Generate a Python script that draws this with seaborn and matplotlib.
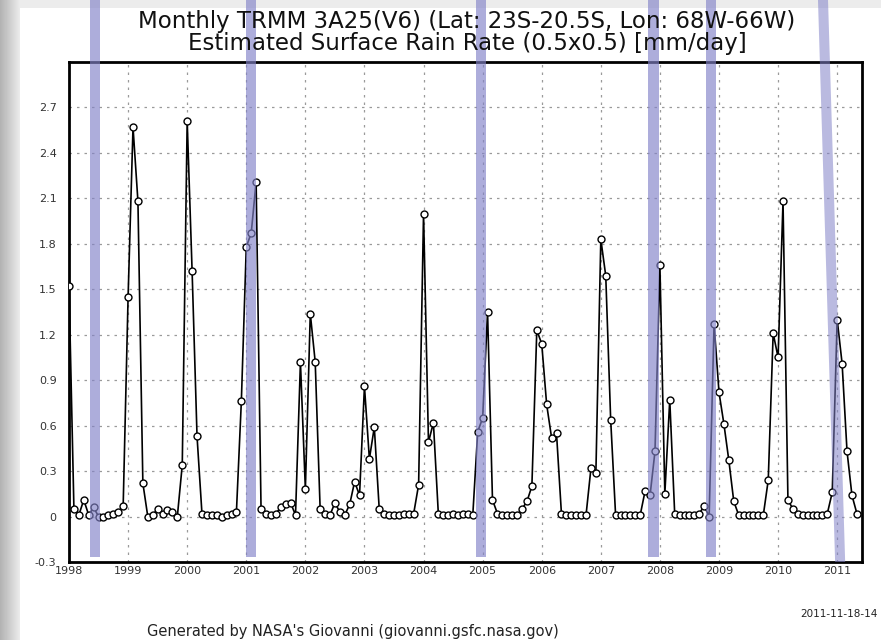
import numpy as np
import pandas as pd
import matplotlib
matplotlib.use("Agg")
import matplotlib.pyplot as plt
import seaborn as sns
from matplotlib.ticker import MultipleLocator

# Monthly surface rain rate [mm/day], Jan 1998 - May 2011
rain_1998 = [1.52, 0.05, 0.01, 0.11, 0.01, 0.06, 0.00, 0.00, 0.01, 0.02, 0.03, 0.07]
rain_1999 = [1.45, 2.57, 2.08, 0.22, 0.00, 0.01, 0.05, 0.02, 0.04, 0.03, 0.00, 0.34]
rain_2000 = [2.61, 1.62, 0.53, 0.02, 0.01, 0.01, 0.01, 0.00, 0.01, 0.02, 0.03, 0.76]
rain_2001 = [1.78, 1.87, 2.21, 0.05, 0.02, 0.01, 0.02, 0.06, 0.08, 0.09, 0.01, 1.02]
rain_2002 = [0.18, 1.34, 1.02, 0.05, 0.02, 0.01, 0.09, 0.03, 0.01, 0.08, 0.23, 0.14]
rain_2003 = [0.86, 0.38, 0.59, 0.05, 0.02, 0.01, 0.01, 0.01, 0.02, 0.02, 0.02, 0.21]
rain_2004 = [2.00, 0.49, 0.62, 0.02, 0.01, 0.01, 0.02, 0.01, 0.02, 0.02, 0.01, 0.56]
rain_2005 = [0.65, 1.35, 0.11, 0.02, 0.01, 0.01, 0.01, 0.01, 0.05, 0.10, 0.20, 1.23]
rain_2006 = [1.14, 0.74, 0.52, 0.55, 0.02, 0.01, 0.01, 0.01, 0.01, 0.01, 0.32, 0.29]
rain_2007 = [1.83, 1.59, 0.64, 0.01, 0.01, 0.01, 0.01, 0.01, 0.01, 0.17, 0.14, 0.43]
rain_2008 = [1.66, 0.15, 0.77, 0.02, 0.01, 0.01, 0.01, 0.01, 0.02, 0.07, 0.00, 1.27]
rain_2009 = [0.82, 0.61, 0.37, 0.10, 0.01, 0.01, 0.01, 0.01, 0.01, 0.01, 0.24, 1.21]
rain_2010 = [1.05, 2.08, 0.11, 0.05, 0.02, 0.01, 0.01, 0.01, 0.01, 0.01, 0.02, 0.16]
rain_2011 = [1.30, 1.01, 0.43, 0.14, 0.02]

years = list(range(1998, 2012))
ytick_vals = [-0.3, 0, 0.3, 0.6, 0.9, 1.2, 1.5, 1.8, 2.1, 2.4, 2.7]
ytick_labels = ["-0.3", "0", "0.3", "0.6", "0.9", "1.2", "1.5", "1.8", "2.1", "2.4", "2.7"]

# blue marker stripes drawn over the scan (decimal year of centre, width in years)
stripe_centres = [1998.44, 2001.08, 2004.97, 2007.89, 2008.87]
stripe_widths = [0.17, 0.16, 0.16, 0.2, 0.17]
slanted_stripe = (2010.76, 2011.05)  # centre at top of picture, at bottom of plot

title_1 = "Monthly TRMM 3A25(V6) (Lat: 23S-20.5S, Lon: 68W-66W)"
title_2 = "Estimated Surface Rain Rate (0.5x0.5) [mm/day]"
footer = "Generated by NASA's Giovanni (giovanni.gsfc.nasa.gov)"
stamp = "2011-11-18-14"

# build frame
rain = (rain_1998 + rain_1999 + rain_2000 + rain_2001 + rain_2002 + rain_2003 + rain_2004
        + rain_2005 + rain_2006 + rain_2007 + rain_2008 + rain_2009 + rain_2010 + rain_2011)
df = pd.DataFrame({"t": 1998 + np.arange(len(rain)) / 12.0, "rain": rain})

sns.set_style("white")
plt.rcParams["font.family"] = ["DejaVu Sans"]

fig = plt.figure(figsize=(8.81, 6.4), dpi=100)
fig.patch.set_facecolor("white")

# gray scan border on the left and top
bg = fig.add_axes([0, 0, 1, 1], zorder=-5)
grad = np.linspace(0.7, 0.92, 20)[None, :]
bg.imshow(grad, cmap="gray", vmin=0, vmax=1, aspect="auto", extent=(0, 20, 0, 640))
bg.fill_between([20, 881], 632, 640, color="#ececec", lw=0)
bg.set_xlim(0, 881)
bg.set_ylim(0, 640)
bg.axis("off")

ax = fig.add_axes([69 / 881, 78 / 640, 793 / 881, 500 / 640])
sns.lineplot(data=df, x="t", y="rain", ax=ax, color="black", linewidth=1.2,
             marker="o", markersize=5, markerfacecolor="white",
             markeredgecolor="black", markeredgewidth=1.0, zorder=3)

ax.set_xlim(1998, 2011.42)
ax.set_ylim(-0.3, 3.0)
ax.set_xticks(years)
ax.set_xticklabels([str(y) for y in years], fontsize=8, color="#333333")
ax.set_yticks(ytick_vals)
ax.set_yticklabels(ytick_labels, fontsize=8, color="#333333")
ax.xaxis.set_minor_locator(MultipleLocator(1 / 12))
ax.yaxis.set_minor_locator(MultipleLocator(0.06))
ax.tick_params(axis="both", which="major", direction="in", length=5, width=1, pad=3)
ax.tick_params(axis="y", which="major", pad=9)
ax.tick_params(axis="both", which="minor", direction="in", length=2.5, width=0.8)
ax.set_xlabel("")
ax.set_ylabel("")
ax.grid(True, which="major", color="#9a9a9a", linestyle=(0, (2, 4)), linewidth=0.9)
for s in ax.spines.values():
    s.set_linewidth(2)
    s.set_color("black")

# blue stripes
for c, w in zip(stripe_centres, stripe_widths):
    ax.axvspan(c - w / 2, c + w / 2, ymin=0.01, ymax=1.13, clip_on=False,
               color="#8282c8", alpha=0.65, lw=0, zorder=5)
top_c, bot_c = slanted_stripe
w = 0.17
ax.fill([top_c - w / 2, top_c + w / 2, bot_c + w / 2, bot_c - w / 2],
        [1.124, 1.124, 0.0, 0.0], transform=ax.get_xaxis_transform(),
        clip_on=False, color="#8282c8", alpha=0.55, lw=0, zorder=5)

fig.text(0.53, 0.966, title_1, ha="center", va="center", fontsize=16.5, color="#111111")
fig.text(0.53, 0.932, title_2, ha="center", va="center", fontsize=16.5, color="#111111")
fig.text(0.40, 0.013, footer, ha="center", va="center", fontsize=10.5, color="#222222")
fig.text(0.908, 0.04, stamp, ha="left", va="center", fontsize=7.5, color="#222222")

fig.savefig("out.png", dpi=100)
